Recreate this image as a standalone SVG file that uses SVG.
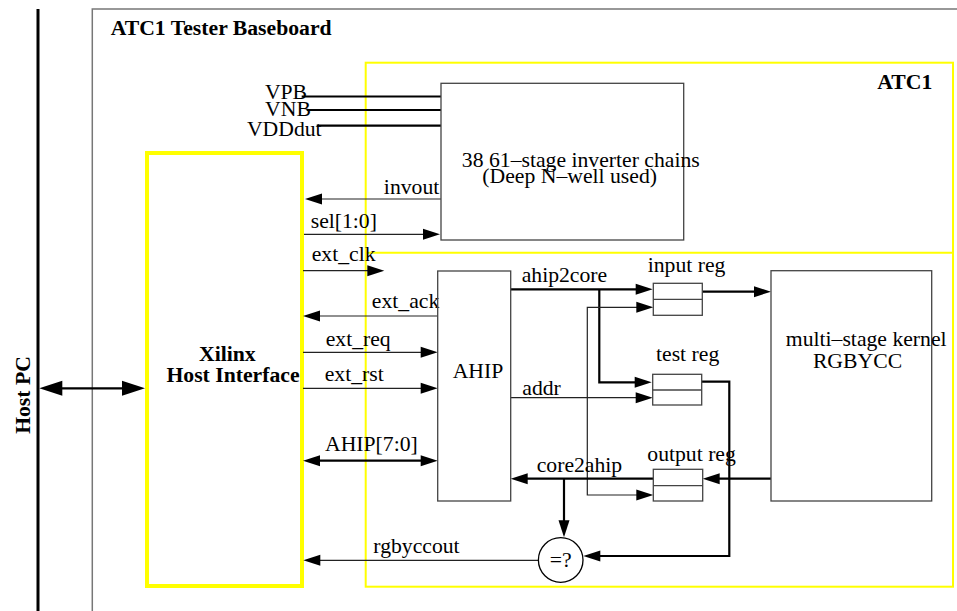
<svg xmlns="http://www.w3.org/2000/svg" width="957" height="611" viewBox="0 0 957 611">
<style>
text{font-family:'Liberation Serif','Times New Roman',Tinos,'DejaVu Serif',serif;font-size:21.7px;fill:#000}
.b{font-weight:bold}
.m{text-anchor:middle}
.e{text-anchor:end}
.box{fill:none;stroke:#444;stroke-width:1.3}
.yel{fill:none;stroke:#ffff00}
.thin{fill:none;stroke:#222;stroke-width:1.2}
.thick{fill:none;stroke:#000;stroke-width:2.2}
</style>
<defs>
<marker id="a" markerUnits="userSpaceOnUse" markerWidth="17" markerHeight="11" refX="9" refY="5.5" orient="auto-start-reverse" overflow="visible"><path d="M0,0 L17,5.5 L0,11 z" fill="#000"/></marker>
<marker id="big" markerUnits="userSpaceOnUse" markerWidth="23" markerHeight="15" refX="13" refY="7.5" orient="auto-start-reverse" overflow="visible"><path d="M0,0 L23,7.5 L0,15 z" fill="#000"/></marker>
</defs>
<rect width="957" height="611" fill="#fff"/>

<g id="host-pc">
<line x1="38" y1="9" x2="38" y2="611" stroke="#000" stroke-width="3"/>
<text class="b m" transform="translate(29.5,395) rotate(-90)">Host PC</text>
</g>

<g id="baseboard">
<rect x="92.3" y="9" width="900" height="700" fill="none" stroke="#777" stroke-width="1.5"/>
<text class="b" x="110.7" y="35">ATC1 Tester Baseboard</text>
</g>

<g id="atc1">
<rect class="yel" x="365.7" y="62.7" width="587.3" height="524" stroke-width="2"/>
<line class="yel" x1="365.7" y1="252.7" x2="953" y2="252.7" stroke-width="2"/>
<text class="b" x="877.3" y="89.3">ATC1</text>
</g>

<g id="xilinx">
<rect class="yel" x="147" y="153" width="155" height="433" stroke-width="4"/>
<text class="b m" x="227.3" y="360.7">Xilinx</text>
<text class="b m" x="233" y="381.7">Host Interface</text>
</g>

<g id="connectors">
<path class="thick" d="M49.3,388.3 L135,388.3" stroke-width="3.2" marker-start="url(#big)" marker-end="url(#big)"/>
<path class="thick" d="M301.7,96.5 L441,96.5"/>
<path class="thick" d="M306.7,110 L441,110"/>
<path class="thick" d="M316.7,125.7 L441,125.7"/>
<path class="thin" d="M441,199 L313,199" marker-end="url(#a)"/>
<path class="thin" d="M304,234.3 L432,234.3" marker-end="url(#a)"/>
<path class="thin" d="M303,270.7 L376.3,270.7" marker-end="url(#a)"/>
<path class="thin" d="M437.7,316 L311,316" marker-end="url(#a)"/>
<path class="thin" d="M303,352.3 L429.7,352.3" marker-end="url(#a)"/>
<path class="thin" d="M303,388.3 L429.7,388.3" marker-end="url(#a)"/>
<path class="thick" d="M311,460.7 L429.7,460.7" marker-start="url(#a)" marker-end="url(#a)"/>
<path class="thin" d="M538.4,560.3 L311.3,560.3" marker-end="url(#a)"/>
<path class="thick" d="M510.7,289.3 L644.7,289.3" marker-end="url(#a)"/>
<path class="thick" d="M599.3,289.3 L599.3,382.3 L643.7,382.3" marker-end="url(#a)"/>
<path class="thick" d="M702.3,291.7 L763,291.7" marker-end="url(#a)"/>
<path class="thin" d="M510.7,397.7 L644.7,397.7" marker-end="url(#a)"/>
<path class="thin" d="M645.3,307.3 L587.3,307.3 L587.3,495 L645.3,495" marker-start="url(#a)" marker-end="url(#a)"/>
<path class="thick" d="M701.7,381.7 L729.3,381.7 L729.3,556 L591.3,556" marker-end="url(#a)"/>
<path class="thick" d="M771,478.7 L710.7,478.7" marker-end="url(#a)"/>
<path class="thick" d="M653.3,478.7 L518.7,478.7" marker-end="url(#a)"/>
<path class="thick" d="M564,478.7 L564,529.3" marker-end="url(#a)"/>
<text x="286" y="98.5" class="m">VPB</text>
<text x="288" y="115.5" class="m">VNB</text>
<text x="284.3" y="135.5" class="m">VDDdut</text>
<text x="439.3" y="194.3" class="e">invout</text>
<text x="310.7" y="227.7">sel[1:0]</text>
<text x="311.7" y="260.7">ext_clk</text>
<text x="439.3" y="308.3" class="e">ext_ack</text>
<text x="325.7" y="346">ext_req</text>
<text x="324.7" y="380.7">ext_rst</text>
<text x="325" y="450.7">AHIP[7:0]</text>
<text x="373.3" y="553.3">rgbyccout</text>
<text x="521.7" y="281.7">ahip2core</text>
<text x="522.3" y="395">addr</text>
<text x="536.7" y="471.7">core2ahip</text>
</g>

<g id="inverter-chains">
<rect class="box" x="441" y="83.3" width="242.7" height="156.7"/>
<text class="m" x="580.8" y="166.7">38 61–stage inverter chains</text>
<text class="m" x="569.7" y="182.7">(Deep N–well used)</text>
</g>

<g id="ahip">
<rect class="box" x="437.7" y="271" width="73" height="230"/>
<text class="m" x="478" y="378.3">AHIP</text>
</g>

<g id="kernel">
<rect class="box" x="771" y="270.7" width="160.7" height="230.3"/>
<text class="m" x="866.2" y="346">multi–stage kernel</text>
<text class="m" x="857.5" y="368.3">RGBYCC</text>
</g>

<g id="input-reg">
<rect class="box" x="653.3" y="283.3" width="49" height="32"/>
<line class="box" x1="653.3" y1="299.3" x2="702.3" y2="299.3"/>
<text x="647.7" y="271.7">input reg</text>
</g>

<g id="test-reg">
<rect class="box" x="652.7" y="374.3" width="49" height="30.7"/>
<line class="box" x1="652.7" y1="390" x2="701.7" y2="390"/>
<text x="656" y="360.7">test reg</text>
</g>

<g id="output-reg">
<rect class="box" x="653.3" y="469.3" width="49.4" height="31.7"/>
<line class="box" x1="653.3" y1="485.7" x2="702.7" y2="485.7"/>
<text x="647.3" y="460.7">output reg</text>
</g>

<g id="compare">
<circle cx="560.7" cy="560" r="22.3" fill="#fff" stroke="#000" stroke-width="1.3"/>
<text class="m" x="560.8" y="567.3">=?</text>
</g>
</svg>
